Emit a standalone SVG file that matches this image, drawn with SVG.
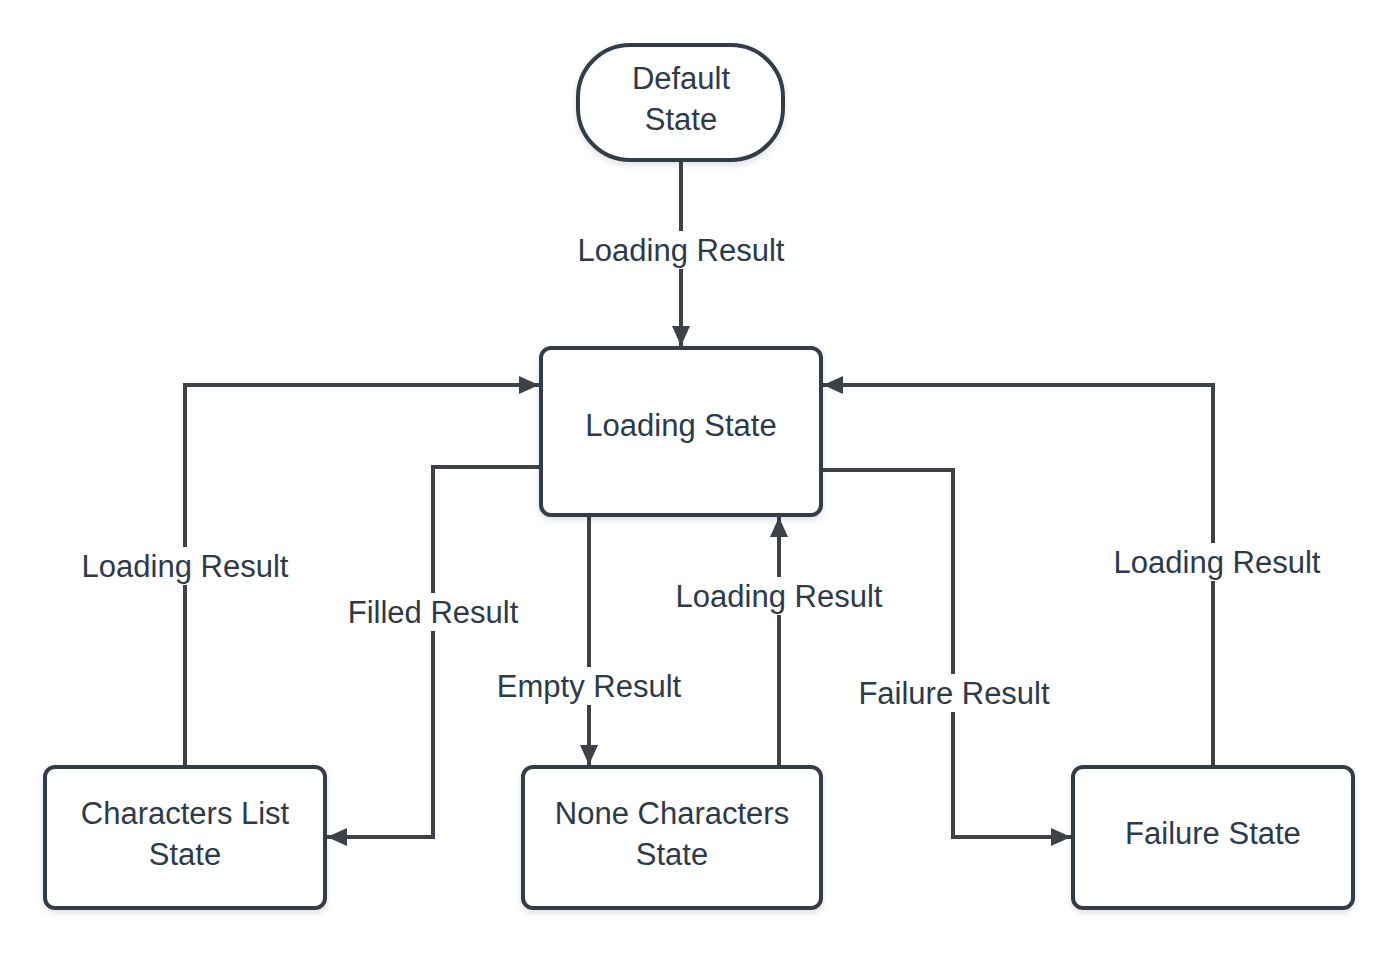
<svg xmlns="http://www.w3.org/2000/svg" width="1400" height="954" viewBox="0 0 1400 954">
<defs>
<marker id="arr" markerWidth="22" markerHeight="18" refX="20" refY="9" orient="auto" markerUnits="userSpaceOnUse">
<path d="M0,0 L20,9 L0,18 Z" fill="#3d4249"/>
</marker>
<filter id="sh" x="-10%" y="-10%" width="120%" height="130%">
<feDropShadow dx="0" dy="3" stdDeviation="3" flood-color="#000" flood-opacity="0.12"/>
</filter>
<style>
.node{fill:#fff;stroke:#333d49;stroke-width:4;filter:url(#sh)}
.conn{fill:none;stroke:#3d4249;stroke-width:4;marker-end:url(#arr)}
.t{font-family:"Liberation Sans",Arial,sans-serif;font-size:31px;fill:#2c3a4a;text-anchor:middle}
.bg{fill:#fff}
</style>
</defs>
<rect width="1400" height="954" fill="#fff"/>
<g id="connectors">
<path class="conn" d="M681,161 V346"/>
<path class="conn" d="M185,767 V385 H539"/>
<path class="conn" d="M541,467 H433 V837 H327"/>
<path class="conn" d="M589,515 V765"/>
<path class="conn" d="M779,767 V517"/>
<path class="conn" d="M821,470 H953 V837 H1071"/>
<path class="conn" d="M1213,767 V385 H823"/>
<rect class="bg" x="576" y="231" width="210" height="38"/>
<text class="t" x="681" y="261">Loading Result</text>
<rect class="bg" x="80" y="547" width="210" height="38"/>
<text class="t" x="185" y="577">Loading Result</text>
<rect class="bg" x="346" y="593" width="174" height="38"/>
<text class="t" x="433" y="623">Filled Result</text>
<rect class="bg" x="496" y="667" width="186" height="38"/>
<text class="t" x="589" y="697">Empty Result</text>
<rect class="bg" x="674" y="577" width="210" height="38"/>
<text class="t" x="779" y="607">Loading Result</text>
<rect class="bg" x="857" y="674" width="194" height="38"/>
<text class="t" x="954" y="704">Failure Result</text>
<rect class="bg" x="1112" y="543" width="210" height="38"/>
<text class="t" x="1217" y="573">Loading Result</text>
</g>
<g id="default-state">
<rect class="node" x="578" y="45" width="205" height="115" rx="52"/>
<text class="t" x="681" y="89">Default</text>
<text class="t" x="681" y="130">State</text>
</g>
<g id="loading-state">
<rect class="node" x="541" y="348" width="280" height="167" rx="10"/>
<text class="t" x="681" y="436">Loading State</text>
</g>
<g id="characters-list-state">
<rect class="node" x="45" y="767" width="280" height="141" rx="10"/>
<text class="t" x="185" y="824">Characters List</text>
<text class="t" x="185" y="865">State</text>
</g>
<g id="none-characters-state">
<rect class="node" x="523" y="767" width="298" height="141" rx="10"/>
<text class="t" x="672" y="824">None Characters</text>
<text class="t" x="672" y="865">State</text>
</g>
<g id="failure-state">
<rect class="node" x="1073" y="767" width="280" height="141" rx="10"/>
<text class="t" x="1213" y="844">Failure State</text>
</g>
</svg>
